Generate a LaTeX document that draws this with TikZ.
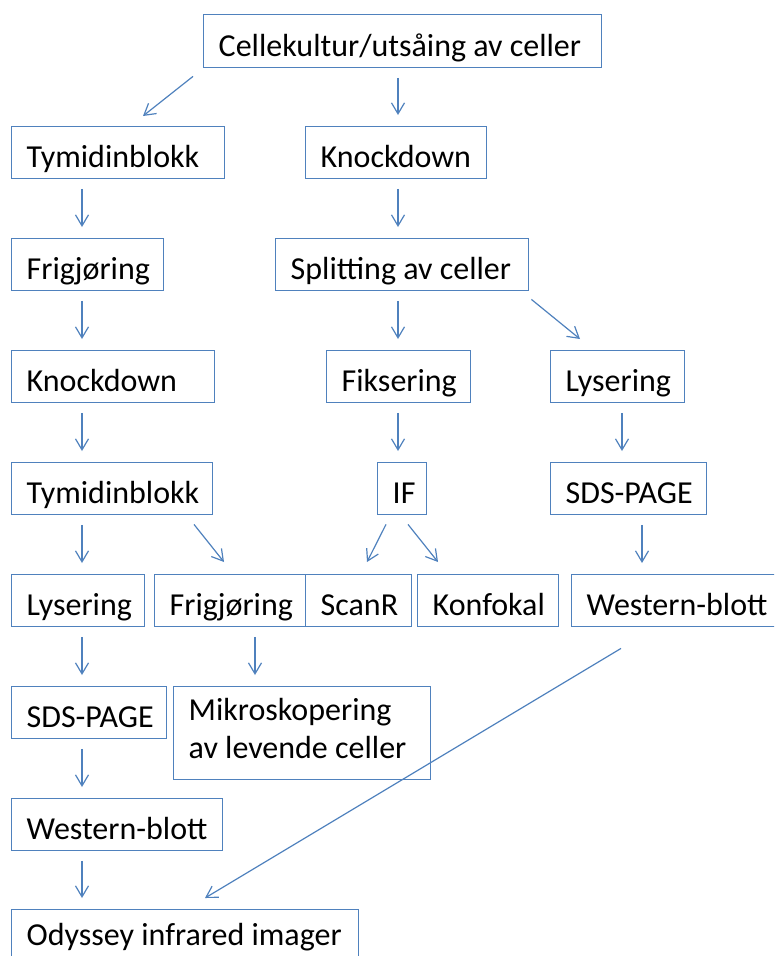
\documentclass[tikz,border=0pt]{standalone}
\usepackage{fontspec}
\setmainfont{Carlito}
\usetikzlibrary{arrows.meta}
\definecolor{boxblue}{HTML}{4F81BD}
\newcommand\boxtext[2]{\makebox[#1][l]{#2}}
\begin{document}
\begin{tikzpicture}[x=1pt,y=-1pt,
  basebox/.style={draw=boxblue, line width=1.4pt, anchor=north west, inner xsep=15pt, inner ysep=0pt,
    font=\fontsize{32}{38}\selectfont},
  box/.style={basebox, minimum height=52pt, text height=30pt, text depth=0pt},
  arr/.style={draw=boxblue, line width=1.2pt, -{Straight Barb[length=11pt,width=13pt,line width=1.2pt]}},
  varr/.style={arr, shorten <=9.5pt, shorten >=11pt}]
\useasboundingbox (0,0) rectangle (774,956);
\clip (0,0) rectangle (774,956);
% boxes
\node[box, minimum height=53pt] (top) at (203,14) {\boxtext{368pt}{Cellekultur/utsåing av celler}};
\node[box] (ty1) at (11,126) {\boxtext{183pt}{Tymidinblokk}};
\node[box] (kdr) at (305,126) {\boxtext{151pt}{Knockdown}};
\node[box] (fr1) at (11,238) {\boxtext{122pt}{Frigjøring}};
\node[box] (split) at (275,238) {\boxtext{223pt}{Splitting av celler}};
\node[box] (kd1) at (11,350) {\boxtext{173pt}{Knockdown}};
\node[box] (fiks) at (326,350) {\boxtext{114pt}{Fiksering}};
\node[box] (lysr) at (550,350) {\boxtext{104pt}{Lysering}};
\node[box] (ty2) at (11,462) {\boxtext{171pt}{Tymidinblokk}};
\node[box] (if) at (377,462) {\boxtext{19pt}{IF}};
\node[box] (sdsr) at (550,462) {\boxtext{126pt}{SDS-PAGE}};
\node[box] (lys1) at (11,574) {\boxtext{103pt}{Lysering}};
\node[box] (fr2) at (154,574) {\boxtext{121pt}{Frigjøring}};
\node[box] (scan) at (305,574) {\boxtext{76pt}{ScanR}};
\node[box] (konf) at (417,574) {\boxtext{111pt}{Konfokal}};
\node[box] (wbr) at (571,574) {\boxtext{190pt}{Western-blott}};
\node[box] (sds1) at (11,686) {\boxtext{125pt}{SDS-PAGE}};
\node[basebox, align=left, minimum height=93pt] (mikro) at (173,686)
  {\boxtext{227pt}{Mikroskopering}\\av levende celler\rule[-9pt]{0pt}{9pt}};
\node[box] (wb1) at (11,798) {\boxtext{181pt}{Western-blott}};
\node[box, text height=20pt] (ody) at (11,909) {\boxtext{317pt}{Odyssey infrared imager}};
% vertical arrows
\draw[varr] (top.south -| 398,0) -- (kdr.north -| 398,0);
\draw[varr] (ty1.south -| 82,0) -- (fr1.north -| 82,0);
\draw[varr] (kdr.south -| 398,0) -- (split.north -| 398,0);
\draw[varr] (fr1.south -| 82,0) -- (kd1.north -| 82,0);
\draw[varr] (split.south -| 398,0) -- (fiks.north -| 398,0);
\draw[varr] (kd1.south -| 82,0) -- (ty2.north -| 82,0);
\draw[varr] (fiks.south -| 398,0) -- (if.north -| 398,0);
\draw[varr] (lysr.south -| 622,0) -- (sdsr.north -| 622,0);
\draw[varr] (ty2.south -| 82,0) -- (lys1.north -| 82,0);
\draw[varr] (sdsr.south -| 642,0) -- (wbr.north -| 642,0);
\draw[varr] (lys1.south -| 82,0) -- (sds1.north -| 82,0);
\draw[varr] (fr2.south -| 255,0) -- (mikro.north -| 255,0);
\draw[varr] (sds1.south -| 82,0) -- (wb1.north -| 82,0);
\draw[varr] (wb1.south -| 82,0) -- (ody.north -| 82,0);
% diagonal arrows
\draw[arr] ([shift={(-10,8)}]top.south west) -- ([shift={(132,-10)}]ty1.north west);
\draw[arr] ([shift={(2,8)}]split.south east) -- ([shift={(30,-11)}]lysr.north west);
\draw[arr] ([shift={(183,9)}]ty2.south west) -- ([shift={(70,-12)}]fr2.north west);
\draw[arr] ([shift={(9,9)}]if.south west) -- ([shift={(62,-12)}]scan.north west);
\draw[arr] ([shift={(31,9)}]if.south west) -- ([shift={(21,-12)}]konf.north west);
\draw[arr] ([shift={(50,21)}]wbr.south west) -- ([shift={(194,-11)}]ody.north west);
\end{tikzpicture}
\end{document}
